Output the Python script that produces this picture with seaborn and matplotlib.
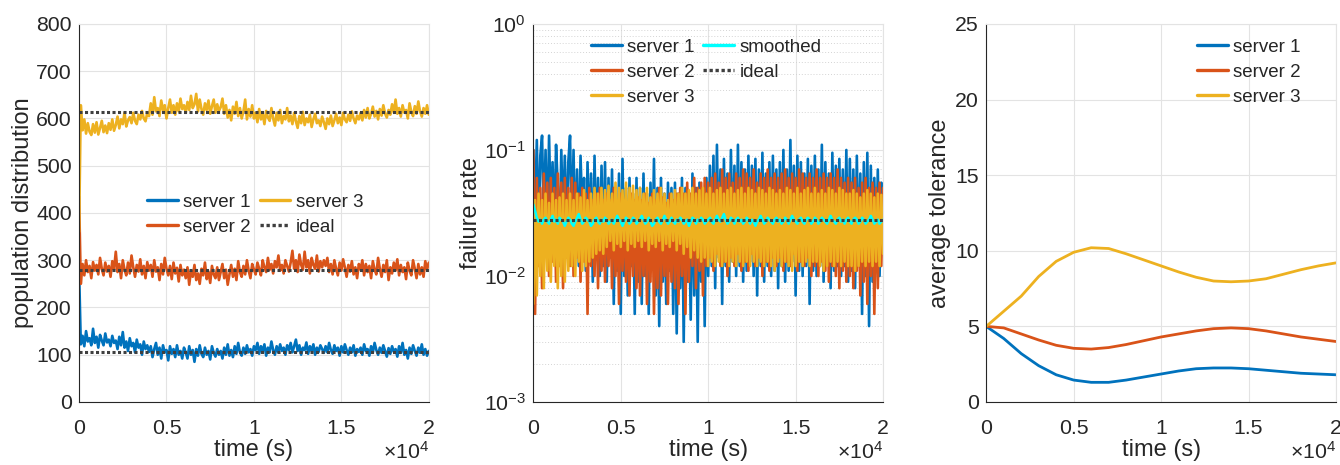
import numpy as np
import pandas as pd
import matplotlib
matplotlib.use('Agg')
import matplotlib.pyplot as plt
from matplotlib.ticker import FuncFormatter, LogLocator, NullFormatter
import seaborn as sns

# ======================== data ========================
# noisy series: sample every 100 s (t = 0 .. 20000), smooth series every 1000 s
t_noisy = np.arange(0, 20001, 100)
t_smooth = [0, 1000, 2000, 3000, 4000, 5000, 6000, 7000, 8000, 9000, 10000,
            11000, 12000, 13000, 14000, 15000, 16000, 17000, 18000, 19000, 20000]

# ---- panel 1: population distribution (one row = 2000 s) ----
pop_s1 = [280,
          122, 140, 118, 150, 128, 135, 120, 155, 125, 138, 115, 142, 130, 120, 145, 126, 132, 118, 140, 125,
          130, 112, 138, 120, 148, 115, 128, 108, 135, 118, 125, 105, 132, 115, 122, 100, 128, 112, 120, 106,
          118, 95, 112, 125, 100, 115, 92, 120, 105, 110, 88, 118, 102, 112, 95, 120, 100, 108, 92, 115,
          105, 92, 118, 100, 110, 85, 112, 98, 120, 102, 95, 115, 100, 108, 90, 118, 104, 96, 112, 100,
          108, 92, 115, 100, 122, 98, 110, 95, 118, 102, 125, 105, 98, 115, 102, 120, 105, 112, 98, 118,
          110, 125, 102, 118, 108, 122, 98, 115, 105, 128, 110, 100, 118, 105, 122, 108, 115, 100, 120, 110,
          125, 105, 118, 132, 108, 120, 100, 115, 110, 126, 102, 118, 108, 122, 100, 115, 106, 120, 112, 104,
          118, 105, 125, 110, 102, 120, 108, 115, 98, 118, 105, 122, 110, 100, 115, 105, 120, 98, 112, 106,
          115, 100, 122, 108, 112, 98, 118, 105, 125, 110, 100, 115, 104, 120, 108, 96, 114, 102, 118, 106,
          112, 96, 118, 104, 125, 100, 110, 92, 115, 102, 120, 108, 98, 115, 104, 122, 100, 112, 98, 108]
pop_s2 = [435,
          250, 292, 268, 300, 275, 288, 262, 296, 278, 290, 270, 305, 282, 268, 295, 276, 288, 265, 298, 280,
          318, 275, 292, 262, 300, 280, 268, 295, 272, 310, 285, 265, 290, 276, 302, 270, 288, 262, 296, 278,
          290, 265, 300, 276, 285, 258, 292, 270, 305, 282, 268, 288, 260, 295, 272, 284, 255, 290, 268, 280,
          262, 285, 248, 278, 265, 290, 258, 272, 250, 282, 268, 295, 260, 276, 252, 288, 270, 262, 285, 258,
          275, 292, 262, 280, 248, 270, 290, 265, 282, 258, 298, 275, 265, 288, 270, 300, 278, 262, 292, 280,
          270, 295, 282, 268, 300, 285, 275, 305, 280, 292, 272, 298, 285, 310, 278, 290, 272, 300, 288, 276,
          295, 320, 282, 300, 275, 312, 290, 280, 318, 285, 300, 272, 305, 290, 282, 310, 276, 298, 285, 300,
          288, 305, 275, 292, 270, 300, 282, 268, 295, 278, 302, 285, 265, 290, 276, 298, 270, 285, 262, 292,
          280, 300, 268, 292, 275, 288, 262, 298, 280, 270, 305, 282, 265, 290, 275, 300, 258, 285, 272, 295,
          278, 302, 268, 290, 275, 285, 260, 295, 278, 268, 300, 282, 262, 292, 270, 285, 265, 298, 280, 295]
pop_s3 = [360,
          628, 575, 598, 568, 590, 572, 565, 588, 570, 592, 566, 580, 595, 571, 585, 569, 590, 576, 598, 574,
          586, 604, 579, 598, 588, 612, 583, 596, 603, 590, 612, 595, 588, 608, 598, 616, 600, 594, 612, 605,
          632, 608, 645, 615, 622, 605, 638, 618, 628, 600, 622, 640, 612, 628, 608, 632, 615, 642, 620, 628,
          612, 635, 618, 648, 622, 630, 652, 615, 640, 620, 608, 632, 618, 638, 610, 626, 640, 612, 630, 616,
          624, 642, 610, 628, 602, 618, 596, 625, 610, 635, 605, 622, 600, 615, 640, 598, 620, 604, 628, 600,
          612, 592, 620, 598, 610, 588, 616, 602, 595, 622, 600, 585, 612, 596, 618, 590, 605, 598, 622, 594,
          606, 588, 612, 594, 580, 605, 590, 614, 586, 600, 592, 608, 582, 598, 610, 590, 596, 584, 604, 592,
          578, 600, 588, 606, 584, 596, 610, 590, 602, 586, 612, 598, 592, 608, 595, 615, 600, 590, 606, 598,
          612, 596, 618, 602, 622, 600, 610, 625, 604, 616, 598, 620, 606, 628, 610, 602, 618, 608, 630, 612,
          640, 610, 622, 604, 628, 612, 618, 600, 632, 614, 605, 626, 610, 636, 615, 604, 622, 610, 628, 608]
pop_ideal = [106, 280, 613]

# ---- panel 2: failure rate (one row = 2000 s) ----
fail_s1 = [0.1,
           0.03, 0.12, 0.02, 0.09, 0.13, 0.025, 0.1, 0.018, 0.13, 0.03, 0.08, 0.02, 0.11, 0.05, 0.015, 0.1, 0.025, 0.09, 0.02, 0.08,
           0.13, 0.02, 0.1, 0.015, 0.07, 0.012, 0.09, 0.03, 0.06, 0.011, 0.08, 0.02, 0.065, 0.009, 0.09, 0.015, 0.06, 0.01, 0.075, 0.012,
           0.08, 0.009, 0.06, 0.014, 0.07, 0.006, 0.05, 0.011, 0.065, 0.005, 0.085, 0.01, 0.05, 0.007, 0.06, 0.012, 0.045, 0.005, 0.06, 0.009,
           0.05, 0.006, 0.065, 0.01, 0.045, 0.005, 0.055, 0.012, 0.085, 0.007, 0.05, 0.004, 0.06, 0.009, 0.045, 0.006, 0.055, 0.011, 0.05, 0.005,
           0.055, 0.0035, 0.045, 0.008, 0.06, 0.003, 0.05, 0.009, 0.04, 0.0045, 0.065, 0.007, 0.05, 0.003, 0.055, 0.009, 0.045, 0.004, 0.06, 0.01,
           0.075, 0.012, 0.09, 0.008, 0.11, 0.014, 0.07, 0.006, 0.085, 0.012, 0.065, 0.009, 0.1, 0.013, 0.075, 0.01, 0.11, 0.012, 0.08, 0.009,
           0.07, 0.011, 0.09, 0.013, 0.075, 0.01, 0.085, 0.007, 0.07, 0.012, 0.095, 0.009, 0.065, 0.012, 0.08, 0.01, 0.09, 0.011, 0.07, 0.008,
           0.08, 0.012, 0.1, 0.009, 0.07, 0.011, 0.12, 0.013, 0.075, 0.007, 0.09, 0.011, 0.08, 0.01, 0.065, 0.012, 0.085, 0.006, 0.075, 0.011,
           0.09, 0.01, 0.07, 0.012, 0.11, 0.009, 0.08, 0.013, 0.065, 0.008, 0.095, 0.011, 0.075, 0.012, 0.085, 0.01, 0.07, 0.012, 0.1, 0.009,
           0.085, 0.011, 0.07, 0.008, 0.09, 0.012, 0.065, 0.005, 0.08, 0.01, 0.095, 0.004, 0.075, 0.009, 0.06, 0.012, 0.07, 0.01, 0.055, 0.05]
fail_s2 = [0.1,
           0.005, 0.06, 0.012, 0.05, 0.008, 0.065, 0.015, 0.055, 0.01, 0.06, 0.013, 0.05, 0.009, 0.065, 0.012, 0.055, 0.008, 0.06, 0.014, 0.05,
           0.012, 0.06, 0.01, 0.055, 0.014, 0.045, 0.009, 0.05, 0.013, 0.045, 0.005, 0.05, 0.012, 0.04, 0.01, 0.045, 0.008, 0.05, 0.011, 0.04,
           0.009, 0.045, 0.012, 0.04, 0.008, 0.05, 0.01, 0.04, 0.006, 0.045, 0.011, 0.04, 0.009, 0.035, 0.007, 0.045, 0.01, 0.04, 0.008, 0.042,
           0.007, 0.04, 0.01, 0.045, 0.006, 0.038, 0.009, 0.045, 0.005, 0.04, 0.008, 0.05, 0.007, 0.042, 0.01, 0.038, 0.006, 0.045, 0.009, 0.04,
           0.008, 0.045, 0.006, 0.05, 0.01, 0.045, 0.005, 0.055, 0.009, 0.045, 0.012, 0.06, 0.008, 0.05, 0.011, 0.055, 0.007, 0.06, 0.012, 0.055,
           0.014, 0.06, 0.011, 0.065, 0.015, 0.055, 0.012, 0.07, 0.013, 0.06, 0.01, 0.065, 0.014, 0.055, 0.012, 0.065, 0.015, 0.06, 0.011, 0.07,
           0.013, 0.065, 0.011, 0.06, 0.015, 0.07, 0.012, 0.055, 0.014, 0.065, 0.01, 0.06, 0.013, 0.07, 0.011, 0.06, 0.014, 0.065, 0.012, 0.06,
           0.014, 0.065, 0.011, 0.07, 0.013, 0.06, 0.012, 0.065, 0.015, 0.06, 0.011, 0.07, 0.013, 0.065, 0.012, 0.06, 0.014, 0.065, 0.01, 0.06,
           0.012, 0.07, 0.01, 0.06, 0.013, 0.065, 0.011, 0.06, 0.009, 0.065, 0.012, 0.06, 0.01, 0.07, 0.008, 0.06, 0.011, 0.055, 0.009, 0.06,
           0.01, 0.055, 0.008, 0.06, 0.011, 0.05, 0.007, 0.055, 0.009, 0.06, 0.006, 0.05, 0.01, 0.055, 0.005, 0.05, 0.008, 0.055, 0.012, 0.05]
fail_s3 = [0.006,
           0.04, 0.007, 0.045, 0.01, 0.04, 0.008, 0.045, 0.011, 0.038, 0.009, 0.045, 0.012, 0.04, 0.008, 0.042, 0.01, 0.045, 0.009, 0.04, 0.011,
           0.045, 0.012, 0.04, 0.01, 0.045, 0.013, 0.042, 0.011, 0.048, 0.012, 0.04, 0.013, 0.045, 0.014, 0.05, 0.015, 0.045, 0.016, 0.05, 0.015,
           0.048, 0.017, 0.052, 0.019, 0.045, 0.016, 0.055, 0.018, 0.05, 0.017, 0.048, 0.019, 0.055, 0.016, 0.05, 0.018, 0.052, 0.017, 0.048, 0.019,
           0.05, 0.017, 0.045, 0.019, 0.05, 0.016, 0.042, 0.018, 0.048, 0.017, 0.045, 0.019, 0.05, 0.016, 0.045, 0.018, 0.04, 0.017, 0.045, 0.019,
           0.048, 0.016, 0.045, 0.018, 0.05, 0.015, 0.045, 0.017, 0.048, 0.014, 0.05, 0.016, 0.045, 0.014, 0.048, 0.013, 0.05, 0.014, 0.045, 0.012,
           0.05, 0.013, 0.045, 0.012, 0.048, 0.013, 0.05, 0.012, 0.045, 0.013, 0.048, 0.012, 0.05, 0.013, 0.045, 0.012, 0.048, 0.013, 0.05, 0.012,
           0.045, 0.013, 0.05, 0.012, 0.048, 0.013, 0.045, 0.012, 0.05, 0.013, 0.048, 0.012, 0.045, 0.013, 0.05, 0.012, 0.048, 0.011, 0.045, 0.013,
           0.048, 0.012, 0.045, 0.013, 0.05, 0.012, 0.048, 0.011, 0.045, 0.012, 0.05, 0.013, 0.045, 0.012, 0.048, 0.013, 0.05, 0.012, 0.045, 0.013,
           0.05, 0.013, 0.045, 0.012, 0.048, 0.011, 0.045, 0.012, 0.05, 0.013, 0.048, 0.012, 0.045, 0.013, 0.05, 0.012, 0.048, 0.013, 0.045, 0.012,
           0.045, 0.012, 0.048, 0.011, 0.045, 0.012, 0.042, 0.013, 0.045, 0.012, 0.048, 0.013, 0.045, 0.012, 0.042, 0.013, 0.045, 0.012, 0.044, 0.015]
fail_smooth = [0.037,
               0.033, 0.029, 0.027, 0.028, 0.026, 0.028, 0.029, 0.027, 0.026, 0.028, 0.030, 0.027, 0.028, 0.026, 0.029, 0.028, 0.027, 0.025, 0.027, 0.029,
               0.028, 0.026, 0.025, 0.027, 0.029, 0.031, 0.028, 0.026, 0.027, 0.029, 0.028, 0.027, 0.025, 0.026, 0.028, 0.029, 0.027, 0.026, 0.028, 0.027,
               0.029, 0.028, 0.026, 0.027, 0.028, 0.026, 0.028, 0.030, 0.028, 0.027, 0.025, 0.027, 0.029, 0.028, 0.026, 0.027, 0.029, 0.028, 0.026, 0.027,
               0.028, 0.030, 0.028, 0.026, 0.027, 0.029, 0.027, 0.025, 0.026, 0.028, 0.029, 0.027, 0.026, 0.028, 0.030, 0.028, 0.026, 0.027, 0.029, 0.027,
               0.026, 0.028, 0.027, 0.029, 0.028, 0.026, 0.027, 0.028, 0.025, 0.027, 0.029, 0.028, 0.026, 0.028, 0.027, 0.029, 0.028, 0.026, 0.027, 0.028,
               0.029, 0.027, 0.026, 0.028, 0.030, 0.028, 0.027, 0.029, 0.031, 0.028, 0.026, 0.027, 0.029, 0.028, 0.026, 0.028, 0.029, 0.027, 0.028, 0.026,
               0.027, 0.029, 0.028, 0.026, 0.028, 0.027, 0.025, 0.027, 0.028, 0.030, 0.028, 0.026, 0.027, 0.029, 0.028, 0.027, 0.026, 0.028, 0.029, 0.027,
               0.028, 0.026, 0.027, 0.029, 0.028, 0.026, 0.028, 0.030, 0.028, 0.027, 0.026, 0.028, 0.029, 0.027, 0.026, 0.028, 0.029, 0.028, 0.026, 0.027,
               0.029, 0.028, 0.026, 0.027, 0.029, 0.028, 0.027, 0.026, 0.028, 0.030, 0.028, 0.027, 0.026, 0.028, 0.029, 0.027, 0.028, 0.026, 0.028, 0.029,
               0.027, 0.026, 0.028, 0.029, 0.028, 0.026, 0.027, 0.029, 0.028, 0.026, 0.027, 0.028, 0.030, 0.028, 0.026, 0.027, 0.028, 0.026, 0.027, 0.028]
fail_ideal = 0.028

# ---- panel 3: average tolerance ----
tol_s1 = [5.0, 4.2, 3.2, 2.4, 1.8, 1.45, 1.3, 1.3, 1.45, 1.65, 1.85,
          2.05, 2.2, 2.25, 2.25, 2.2, 2.1, 2.0, 1.9, 1.85, 1.8]
tol_s2 = [5.0, 4.9, 4.5, 4.1, 3.75, 3.55, 3.5, 3.6, 3.8, 4.05, 4.3,
          4.5, 4.7, 4.85, 4.9, 4.85, 4.7, 4.5, 4.3, 4.15, 4.0]
tol_s3 = [5.0, 6.0, 7.0, 8.3, 9.3, 9.9, 10.2, 10.15, 9.8, 9.4, 9.0,
          8.6, 8.25, 8.0, 7.95, 8.0, 8.15, 8.45, 8.75, 9.0, 9.2]

for name, s in [('pop_s1', pop_s1), ('pop_s2', pop_s2), ('pop_s3', pop_s3),
                ('fail_s1', fail_s1), ('fail_s2', fail_s2), ('fail_s3', fail_s3),
                ('fail_smooth', fail_smooth)]:
    assert len(s) == len(t_noisy), f'{name}: {len(s)} values'

SERVERS = ['server 1', 'server 2', 'server 3']
COLORS = ['#0072BD', '#D95319', '#EDB120']
IDEAL_COLOR = '#3f3f3f'
SMOOTH_COLOR = '#00FFFF'
TXT = '#262626'
GRID = '#e3e3e3'
DOTTED = (0, (1, 0.8))

# ======================== style ========================
sns.set_theme(style='white')
plt.rcParams['font.family'] = ['Liberation Sans', 'DejaVu Sans']
plt.rcParams['mathtext.fontset'] = 'custom'
plt.rcParams['mathtext.rm'] = 'Liberation Sans'
plt.rcParams['mathtext.it'] = 'Liberation Sans'
FS_TICK, FS_LABEL, FS_LEG = 15.3, 17, 13.5

fig = plt.figure(figsize=(13.4, 4.65), dpi=100)
lefts = [0.059, 0.398, 0.736]
axes = [fig.add_axes([l, 0.1355, 0.261, 0.813]) for l in lefts]


def style_axis(ax, ylabel, ylab_x):
    ax.set_xlim(0, 20000)
    ax.set_xticks([0, 5000, 10000, 15000, 20000])
    ax.xaxis.set_major_formatter(FuncFormatter(lambda v, p: f'{v / 1e4:g}'))
    ax.grid(True, which='major', color=GRID, linewidth=0.8)
    ax.set_axisbelow(True)
    for s in ['left', 'bottom']:
        ax.spines[s].set_color(TXT)
        ax.spines[s].set_linewidth(0.8)
    for s in ['top', 'right']:
        ax.spines[s].set_color(GRID)
        ax.spines[s].set_linewidth(0.8)
    ax.tick_params(axis='both', which='both', direction='in', colors=TXT,
                   labelsize=FS_TICK, labelcolor=TXT, top=False, right=False)
    ax.tick_params(axis='both', which='major', length=3, width=0.8)
    ax.tick_params(axis='x', which='major', pad=12)
    ax.tick_params(axis='y', which='major', pad=5.3)
    ax.tick_params(axis='y', which='minor', length=2, width=0.6)
    ax.set_xlabel('time (s)', fontsize=FS_LABEL, color=TXT, labelpad=1.2)
    ax.set_ylabel(ylabel, fontsize=FS_LABEL, color=TXT)
    ax.yaxis.set_label_coords(ylab_x, 0.5)
    ax.text(1.0, -0.151, r'$\times$10$^{4}$', transform=ax.transAxes,
            ha='right', va='baseline', fontsize=FS_TICK, color=TXT)


def legend(ax, ncol, center):
    h, l = ax.get_legend_handles_labels()
    leg = ax.legend(handles=h, labels=l, ncol=ncol, frameon=False, fontsize=FS_LEG,
                    handlelength=1.65, handletextpad=0.27, labelspacing=0.42,
                    columnspacing=0.48, loc='center', bbox_to_anchor=center)
    for txt in leg.get_texts():
        txt.set_color(TXT)
    for line in leg.get_lines():
        line.set_linewidth(2.4)
    return leg


# ======================== panel 1 ========================
ax = axes[0]
for vals, name, c in zip([pop_s1, pop_s2, pop_s3], SERVERS, COLORS):
    sns.lineplot(x=t_noisy, y=vals, color=c, linewidth=1.9, label=name, ax=ax)
for k, v in enumerate(pop_ideal):
    sns.lineplot(x=[0, 20000], y=[v, v], color=IDEAL_COLOR, linewidth=2.2,
                 linestyle=DOTTED, label='ideal' if k == 0 else None, ax=ax)
ax.set_ylim(0, 800)
ax.set_yticks(range(0, 801, 100))
style_axis(ax, 'population distribution', -0.128)
legend(ax, 2, (0.503, 0.496))

# ======================== panel 2 ========================
ax = axes[1]
for vals, name, c in zip([fail_s1, fail_s2, fail_s3], SERVERS, COLORS):
    sns.lineplot(x=t_noisy, y=vals, color=c, linewidth=1.9, label=name, ax=ax)
sns.lineplot(x=t_noisy, y=fail_smooth, color=SMOOTH_COLOR, linewidth=1.8,
             label='smoothed', ax=ax)
sns.lineplot(x=[0, 20000], y=[fail_ideal, fail_ideal], color=IDEAL_COLOR,
             linewidth=2.2, linestyle=DOTTED, label='ideal', ax=ax)
ax.set_yscale('log')
ax.set_ylim(1e-3, 1)
ax.yaxis.set_major_locator(LogLocator(base=10, numticks=10))
ax.yaxis.set_minor_locator(LogLocator(base=10, subs=np.arange(2, 10), numticks=20))
ax.yaxis.set_minor_formatter(NullFormatter())
style_axis(ax, 'failure rate', -0.147)
ax.grid(True, which='minor', axis='y', color='#d4d4d4', linewidth=0.7,
        linestyle=(0, (1, 2)))
legend(ax, 2, (0.494, 0.872))

# ======================== panel 3 ========================
ax = axes[2]
for vals, name, c in zip([tol_s1, tol_s2, tol_s3], SERVERS, COLORS):
    sns.lineplot(x=t_smooth, y=vals, color=c, linewidth=2.0, label=name, ax=ax)
ax.set_ylim(0, 25)
ax.set_yticks(range(0, 26, 5))
style_axis(ax, 'average tolerance', -0.101)
legend(ax, 1, (0.75, 0.872))

fig.savefig('out.png', dpi=100)
plt.close(fig)
